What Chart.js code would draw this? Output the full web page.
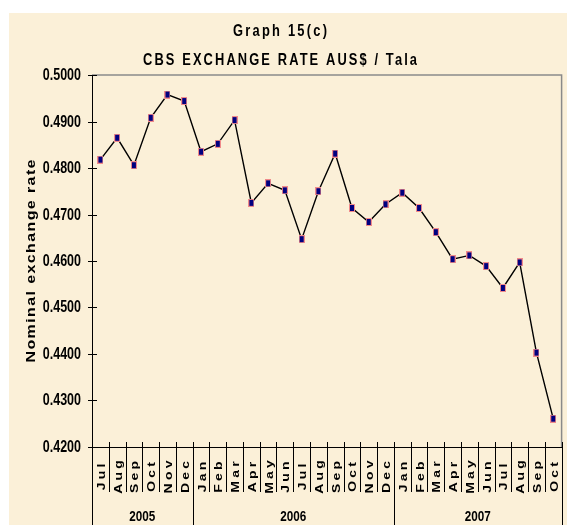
<!DOCTYPE html>
<html>
<head>
<meta charset="utf-8">
<script src="https://cdn.jsdelivr.net/npm/chart.js@4"></script>
<style>
  html, body { margin: 0; padding: 0; background: #fff; }
  #wrap { width: 567px; height: 525px; }
</style>
</head>
<body>
<div id="wrap"><canvas id="myChart" width="567" height="525"></canvas></div>
<script>
const months = ["Jul", "Aug", "Sep", "Oct", "Nov", "Dec",
  "Jan", "Feb", "Mar", "Apr", "May", "Jun", "Jul", "Aug", "Sep", "Oct", "Nov", "Dec",
  "Jan", "Feb", "Mar", "Apr", "May", "Jun", "Jul", "Aug", "Sep", "Oct"];
const years = ["2005", "2006", "2007"];
const monthsPerYear = [6, 12, 10];
const rates = [0.4818, 0.4865, 0.4806, 0.4908, 0.4958, 0.4944,
  0.4835, 0.4852, 0.4903, 0.4725, 0.4767, 0.4752, 0.4647, 0.4750, 0.4831, 0.4714, 0.4684, 0.4722,
  0.4747, 0.4714, 0.4662, 0.4604, 0.4612, 0.4589, 0.4542, 0.4597, 0.4403, 0.4261];
const titleLines = ["Graph 15(c)", "CBS EXCHANGE RATE AUS$ / Tala"];
const yTitle = "Nominal exchange rate";

const FONT = "'Liberation Sans', Arial, sans-serif";
const SQUEEZE = 0.78; // the original picture is squashed sideways

// small navy box with a pink rim, like the excel marker
const marker = document.createElement("canvas");
marker.width = 6;
marker.height = 8;
const mctx = marker.getContext("2d");
mctx.fillStyle = "#f08a8a";
mctx.fillRect(0, 0, 6, 8);
mctx.fillStyle = "#000080";
mctx.fillRect(1, 1, 4, 6);

// draws bold text, squeezed, optionally rotated, with spacing or fitted to a length
function drawText(ctx, text, x, y, o) {
  const sx = o.sx || 1;
  const sy = o.sy || 1;
  ctx.save();
  ctx.translate(x, y);
  if (o.rotate) ctx.rotate(o.rotate);
  ctx.scale(sx, sy);
  ctx.font = "bold " + o.size + "px " + FONT;
  ctx.textBaseline = o.baseline || "alphabetic";
  ctx.textAlign = "left";
  ctx.letterSpacing = "0px";
  const w = ctx.measureText(text).width;
  let ls = o.ls || 0;
  if (o.target) ls = (o.target - w * sx) / (text.length - 1);
  const lsText = ls / sx;
  const total = w + lsText * (text.length - 1);
  ctx.letterSpacing = lsText + "px";
  let start = 0;
  if (o.align === "center") start = -total / 2;
  if (o.align === "right") start = -total;
  ctx.fillText(text, start, 0);
  ctx.restore();
}

const decor = {
  id: "decor",
  beforeDraw(chart) {
    const ctx = chart.ctx;
    ctx.save();
    ctx.fillStyle = "#ffffff";
    ctx.fillRect(0, 0, chart.width, chart.height);
    ctx.fillStyle = "#fbf0d8";
    ctx.fillRect(9, 13, chart.width - 9, chart.height - 13);
    ctx.restore();
  },
  afterDraw(chart) {
    const ctx = chart.ctx;
    const area = chart.chartArea;
    const xs = chart.scales.x;
    const ys = chart.scales.y;
    const step = xs.getPixelForValue(1) - xs.getPixelForValue(0);
    ctx.save();

    // gray frame top/right
    ctx.strokeStyle = "#8a8a8a";
    ctx.lineWidth = 1.5;
    ctx.beginPath();
    ctx.moveTo(area.left, area.top);
    ctx.lineTo(area.right, area.top);
    ctx.lineTo(area.right, area.bottom);
    ctx.stroke();

    ctx.strokeStyle = "#000";
    ctx.fillStyle = "#000";
    ctx.lineWidth = 1;
    // y ticks crossing the axis + labels
    ys.ticks.forEach((t) => {
      const y = Math.round(ys.getPixelForValue(t.value)) + 0.5;
      ctx.beginPath();
      ctx.moveTo(area.left - 4, y);
      ctx.lineTo(area.left + 5, y);
      ctx.stroke();
      drawText(ctx, t.value.toFixed(4), 81, y, {
        size: 16, sx: SQUEEZE, align: "right", baseline: "middle",
      });
    });

    // category dividers
    const yearStarts = [0];
    monthsPerYear.forEach((n, i) => yearStarts.push(yearStarts[i] + n));
    for (let i = 0; i <= months.length; i++) {
      const x = Math.round(xs.getPixelForValue(0) + (i - 0.5) * step) + 0.5;
      const isYear = yearStarts.includes(i);
      ctx.beginPath();
      ctx.moveTo(x, area.bottom - 5);
      ctx.lineTo(x, isYear ? chart.height : 492);
      ctx.stroke();
    }

    // month labels, reading upwards
    months.forEach((m, i) => {
      const x = xs.getPixelForValue(i) + 1.5;
      drawText(ctx, m, x, 477, {
        size: 14, sy: SQUEEZE, ls: 3.2, rotate: -Math.PI / 2, align: "center", baseline: "middle",
      });
    });

    // year labels
    years.forEach((yr, i) => {
      const a = xs.getPixelForValue(yearStarts[i]) - step / 2;
      const b = xs.getPixelForValue(yearStarts[i + 1] - 1) + step / 2;
      drawText(ctx, yr, (a + b) / 2, 517, {
        size: 15, sx: SQUEEZE, align: "center", baseline: "middle",
      });
    });

    // titles
    drawText(ctx, titleLines[0], 280, 36, { size: 16.5, sx: SQUEEZE, target: 94, align: "center" });
    drawText(ctx, titleLines[1], 280, 65, { size: 16.5, sx: SQUEEZE, target: 274, align: "center" });

    // y axis title
    drawText(ctx, yTitle, 35, (area.top + area.bottom) / 2, {
      size: 16, sy: 0.82, target: 203, rotate: -Math.PI / 2, align: "center",
    });

    ctx.restore();
  },
};

const ctx = document.getElementById("myChart");

new Chart(ctx, {
  type: "line",
  data: {
    labels: months,
    datasets: [
      {
        data: rates,
        borderColor: "#000",
        borderWidth: 1.4,
        tension: 0,
        pointStyle: marker,
        pointRadius: 4,
      },
    ],
  },
  options: {
    responsive: false,
    animation: false,
    events: [],
    layout: { padding: { top: 75, right: 1, left: 0, bottom: 0 } },
    plugins: {
      legend: { display: false },
      tooltip: { enabled: false },
    },
    scales: {
      x: {
        offset: true,
        grid: { display: false, drawTicks: false },
        border: { display: true, color: "#000", width: 1 },
        ticks: { display: false },
        afterFit(scale) {
          scale.height = 78;
        },
      },
      y: {
        min: 0.42,
        max: 0.5,
        grid: { display: false, drawTicks: false },
        border: { display: true, color: "#000", width: 1 },
        ticks: { display: false, stepSize: 0.01 },
        afterFit(scale) {
          scale.width = 92;
        },
      },
    },
  },
  plugins: [decor],
});
</script>
</body>
</html>
